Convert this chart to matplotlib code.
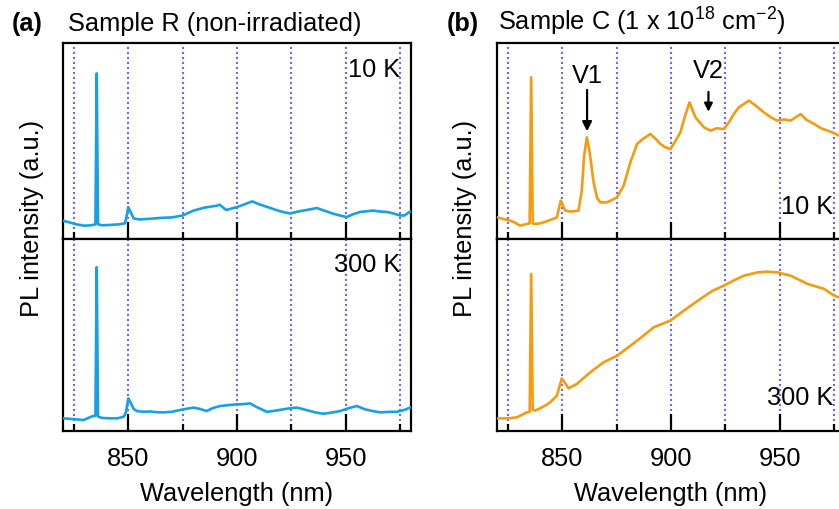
import matplotlib
matplotlib.use('Agg')
import matplotlib.pyplot as plt

plt.rcParams['font.family'] = ['Liberation Sans', 'DejaVu Sans']
plt.rcParams['mathtext.fontset'] = 'custom'
plt.rcParams['mathtext.rm'] = 'Liberation Sans'
plt.rcParams['mathtext.it'] = 'Liberation Sans:italic'

# sample R, 10 K
wlR10 = [820, 823, 826, 830, 833, 834.9, 835.5, 836.1, 838, 842, 846, 848.5, 849.5, 850, 851, 852.5,
         855, 860, 865, 870, 875, 880, 885, 890.7, 892, 895, 900, 903, 907, 910, 914, 918, 921, 924.4,
         928, 932, 936.7, 940, 944, 948, 950.5, 953, 956.6, 962.6, 966, 969, 972, 975, 977, 979.6]
plR10 = [0.093, 0.085, 0.075, 0.068, 0.07, 0.075, 0.845, 0.075, 0.07, 0.072, 0.075, 0.08, 0.13, 0.163,
         0.14, 0.105, 0.1, 0.103, 0.108, 0.11, 0.12, 0.145, 0.16, 0.17, 0.175, 0.148, 0.163, 0.175, 0.192,
         0.178, 0.163, 0.148, 0.138, 0.13, 0.14, 0.148, 0.158, 0.145, 0.13, 0.118, 0.112, 0.125, 0.138,
         0.145, 0.14, 0.138, 0.13, 0.12, 0.12, 0.14]

# sample R, 300 K
wlR300 = [820, 825, 829.4, 833, 834.9, 835.5, 836.1, 838, 842, 845, 848, 849, 850, 851, 852.5, 854, 857,
          860, 863, 866, 870, 875.3, 878, 880, 883, 886, 889, 892.2, 896, 900, 903, 906, 909, 913.7, 917,
          921.3, 924, 927.5, 930, 933.6, 936, 939.6, 943, 947.4, 951, 955, 958.9, 962, 965.8, 970, 973.5,
          977, 979.6]
plR300 = [0.066, 0.062, 0.057, 0.075, 0.08, 0.853, 0.075, 0.068, 0.066, 0.066, 0.075, 0.1, 0.17, 0.15,
          0.115, 0.104, 0.1, 0.102, 0.098, 0.097, 0.1, 0.113, 0.118, 0.122, 0.115, 0.104, 0.12, 0.13,
          0.135, 0.139, 0.14, 0.144, 0.125, 0.1, 0.105, 0.113, 0.118, 0.122, 0.115, 0.104, 0.097, 0.09,
          0.095, 0.104, 0.118, 0.13, 0.113, 0.105, 0.097, 0.1, 0.1, 0.11, 0.122]

# sample C, 10 K
wlC10 = [820, 823, 826, 828, 830.6, 833.7, 835, 835.7, 836.4, 837.5, 840, 844, 847.5, 849.3, 851.3, 854,
         857.5, 859, 860, 861.3, 862.5, 864.4, 866, 867.5, 870.5, 873, 875.2, 878.2, 881.3, 884.4, 887,
         890.5, 893, 895.1, 897, 899.7, 902, 904.3, 906.5, 908.5, 911.2, 915.1, 918.2, 921, 924.3, 926.6,
         929, 931.2, 935.8, 939, 942.7, 946, 948.9, 952, 955, 959.6, 962, 965.8, 969, 971.9, 975, 977.3,
         980]
plC10 = [0.11, 0.102, 0.094, 0.085, 0.068, 0.077, 0.08, 0.825, 0.08, 0.077, 0.08, 0.095, 0.11, 0.196,
         0.145, 0.14, 0.145, 0.25, 0.42, 0.519, 0.45, 0.289, 0.21, 0.187, 0.187, 0.2, 0.213, 0.272, 0.391,
         0.485, 0.51, 0.536, 0.51, 0.485, 0.47, 0.459, 0.5, 0.544, 0.63, 0.697, 0.621, 0.57, 0.553, 0.565,
         0.561, 0.595, 0.64, 0.672, 0.706, 0.68, 0.646, 0.62, 0.604, 0.61, 0.604, 0.638, 0.61, 0.587,
         0.565, 0.553, 0.54, 0.527, 0.52]

# sample C, 300 K
wlC300 = [820, 825, 829, 833.7, 835, 835.7, 836.4, 837.5, 841, 844.4, 847.5, 849.8, 852.9, 856.7, 862.9,
          869, 875.2, 881.3, 887.4, 892, 899.7, 905.9, 913.5, 919, 924.3, 929, 933.5, 939.7, 944, 948.9,
          955, 962.7, 966, 970.4, 975, 977.3, 980]
plC300 = [0.066, 0.066, 0.071, 0.097, 0.1, 0.818, 0.11, 0.106, 0.125, 0.149, 0.184, 0.274, 0.222, 0.245,
          0.306, 0.358, 0.392, 0.444, 0.497, 0.54, 0.575, 0.627, 0.688, 0.73, 0.757, 0.785, 0.809, 0.826,
          0.83, 0.826, 0.809, 0.766, 0.755, 0.74, 0.705, 0.696, 0.69]

guides = [825, 850, 875, 900, 925, 950, 975]
majors = [850, 900, 950]
minors = [825, 875, 925, 975]

blue = '#17a0e3'
orange = '#f49b0e'
fs = 18.3

fig = plt.figure(figsize=(8.39, 5.10), dpi=100)


def setup(ax, bottom):
    ax.set_xlim(820, 980)
    ax.set_ylim(0, 1)
    for x in guides:
        ax.axvline(x, color='#6a6af8', lw=1.5, ls=(0, (1, 1.4)), zorder=1)
    ax.set_xticks(majors)
    ax.set_xticks(minors, minor=True)
    ax.set_yticks([])
    ax.tick_params(axis='x', which='major', direction='in', length=12, width=1.6,
                   top=False, labelsize=fs, pad=11, labelbottom=bottom)
    ax.tick_params(axis='x', which='minor', direction='in', length=5, width=1.6, top=False)
    for s in ax.spines.values():
        s.set_linewidth(1.6)


# panel (a)
axa1 = fig.add_axes([0.0751, 0.5294, 0.4148, 0.3843])
axa2 = fig.add_axes([0.0751, 0.1529, 0.4148, 0.3765])
# panel (b), cut off at the right edge like the original
axb1 = fig.add_axes([0.5924, 0.5294, 0.4148, 0.3843])
axb2 = fig.add_axes([0.5924, 0.1529, 0.4148, 0.3765])

for ax, bottom in [(axa1, False), (axa2, True), (axb1, False), (axb2, True)]:
    setup(ax, bottom)

axa1.plot(wlR10, plR10, color=blue, lw=1.9, zorder=3)
axa2.plot(wlR300, plR300, color=blue, lw=1.9, zorder=3)
axb1.plot(wlC10, plC10, color=orange, lw=1.9, zorder=3)
axb2.plot(wlC300, plC300, color=orange, lw=1.9, zorder=3)

axa1.text(0.968, 0.867, '10 K', transform=axa1.transAxes, ha='right', va='center', fontsize=fs)
axa2.text(0.968, 0.87, '300 K', transform=axa2.transAxes, ha='right', va='center', fontsize=fs)
axb1.text(0.966, 0.168, '10 K', transform=axb1.transAxes, ha='right', va='center', fontsize=fs)
axb2.text(0.966, 0.177, '300 K', transform=axb2.transAxes, ha='right', va='center', fontsize=fs)

# V1 / V2 markers
axb1.text(861.4, 0.835, 'V1', ha='center', va='center', fontsize=fs)
axb1.annotate('', xy=(861.4, 0.535), xytext=(861.4, 0.775),
              arrowprops=dict(arrowstyle='-|>', color='k', lw=1.6, mutation_scale=14))
axb1.text(917.2, 0.86, 'V2', ha='center', va='center', fontsize=fs)
axb1.annotate('', xy=(917.2, 0.635), xytext=(917.2, 0.765),
              arrowprops=dict(arrowstyle='-|>', color='k', lw=1.6, mutation_scale=12))

axa2.set_xlabel('Wavelength (nm)', fontsize=fs, labelpad=8)
axb2.set_xlabel('Wavelength (nm)', fontsize=fs, labelpad=8)

fig.text(32 / 839, 1 - 218 / 510, 'PL intensity (a.u.)', rotation=90, ha='center', va='center', fontsize=fs)
fig.text(465 / 839, 1 - 218 / 510, 'PL intensity (a.u.)', rotation=90, ha='center', va='center', fontsize=fs)

fig.text(12 / 839, 1 - 31 / 510, '(a)', fontweight='bold', fontsize=fs, ha='left', va='baseline')
fig.text(68 / 839, 1 - 31 / 510, 'Sample R (non-irradiated)', fontsize=fs, ha='left', va='baseline')
fig.text(447 / 839, 1 - 31 / 510, '(b)', fontweight='bold', fontsize=fs, ha='left', va='baseline')
fig.text(498 / 839, 1 - 31 / 510, 'Sample C (1 x 10$^{18}$ cm$^{\u2212 2}$)', fontsize=fs, ha='left', va='baseline')

fig.savefig('out.png', dpi=100)
